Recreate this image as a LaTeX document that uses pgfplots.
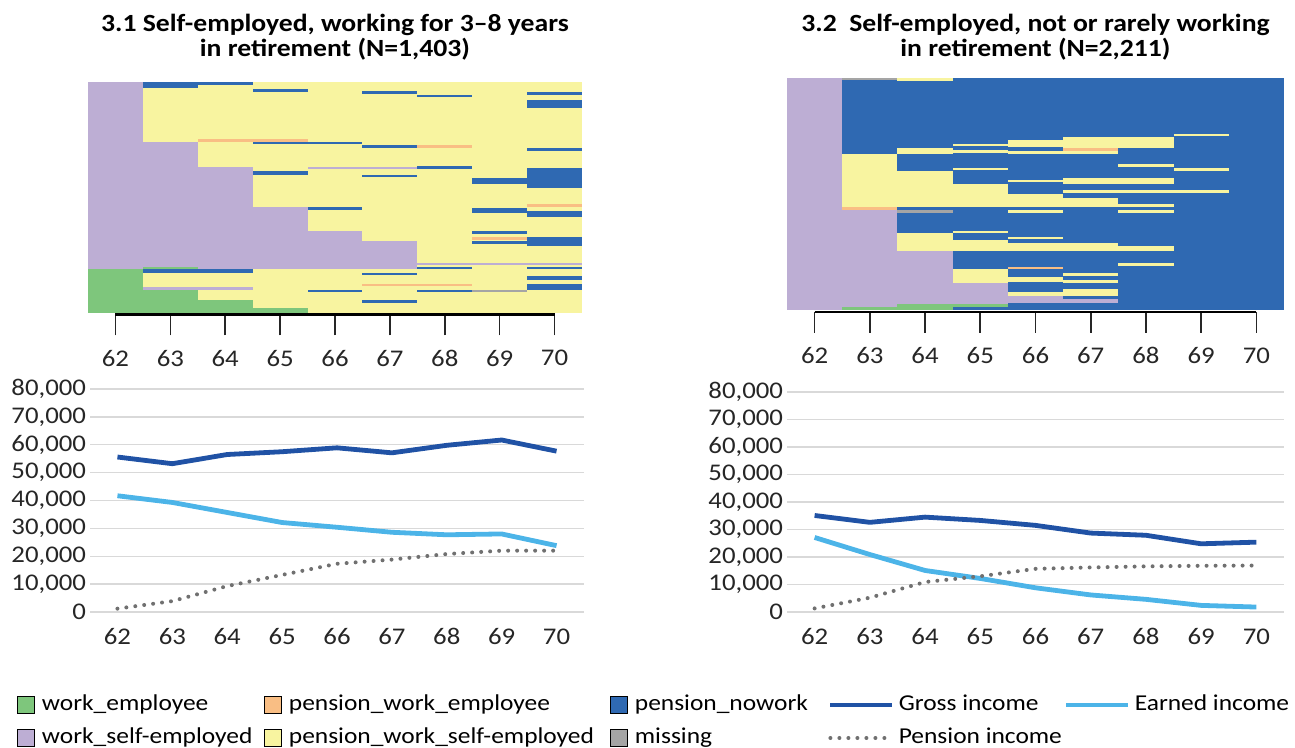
\documentclass[border=0pt]{standalone}
\usepackage{fontspec}
\setmainfont{Carlito}[FakeStretch=1.12]
\usepackage{pgfplots}
\pgfplotsset{compat=1.18}
\definecolor{cG}{RGB}{126,198,124}
\definecolor{cP}{RGB}{189,174,212}
\definecolor{cY}{RGB}{248,244,160}
\definecolor{cB}{RGB}{47,105,178}
\definecolor{cO}{RGB}{249,190,132}
\definecolor{cM}{RGB}{165,165,165}
\definecolor{cGross}{RGB}{32,82,165}
\definecolor{cEarn}{RGB}{76,180,232}
\definecolor{cPen}{RGB}{112,112,112}
\definecolor{gridc}{RGB}{217,217,217}
\newcommand{\fs}{\fontsize{24}{28}\selectfont}
\newcommand{\fl}{\fontsize{22.8}{27}\selectfont}
\newcommand{\R}[5]{\addplot[fill=#5,draw=none] coordinates {(#1,#3) (#2,#3) (#2,#4) (#1,#4)};}
\pgfplotsset{
 heat/.style={scale only axis, anchor=south west, xmin=61.5, xmax=70.5, ymax=100,
   hide y axis, axis x line*=bottom, x axis line style={draw=none},
   xtick={62,...,70}, tick align=outside, major tick length=21bp,
   tick style={line width=1.6bp, black!85},
   xticklabel style={font=\fs, text=black!85, yshift=-11bp}, clip=false,
   every axis title/.style={at={(0.5,1)}, anchor=south, align=center,
     font=\bfseries\fontsize{24.8}{25.5}\selectfont},
   /pgf/number format/assume math mode=true},
 inc/.style={scale only axis, anchor=south west, xmin=61.5, xmax=70.5, ymin=0, ymax=80000,
   xtick={62,...,70}, ytick={0,10000,...,80000}, axis line style={draw=none},
   major tick length=0pt, ymajorgrids, grid style={line width=1.3bp, color=gridc},
   tick label style={font=\fs, text=black!85}, scaled y ticks=false,
   xticklabel style={yshift=-13bp}, yticklabel style={xshift=-0.5bp},
   /pgf/number format/1000 sep={,}, /pgf/number format/assume math mode=true},
 leg/.style={hide axis, scale only axis, width=1bp, height=1bp, anchor=south west,
   xmin=0, xmax=1, ymin=0, ymax=1, legend cell align=left,
   legend style={at={(0,0)}, anchor=west, draw=none, fill=none, inner sep=0bp,
     outer sep=0bp, font=\fl, column sep=7bp, row sep=12bp,
     nodes={inner sep=0bp, text height=16bp, text depth=5bp}}},
}
\begin{document}
\begin{tikzpicture}
\path[use as bounding box] (0,0) rectangle (1295bp,748bp);

% ---------- 3.1 sequence index plot ----------
\begin{axis}[heat, at={(88bp,433.5bp)}, width=494bp, height=232.5bp, ymin=-0.8,
  title={3.1 Self-employed, working for 3–8 years\\in retirement (N=1,403)},
  every axis title/.append style={yshift=18bp}]
\R{62.5}{70.5}{0}{100}{cY}
\R{61.5}{62.5}{18.8}{100}{cP}
\R{61.5}{62.5}{0}{18.8}{cG}
\R{62.5}{63.5}{18.8}{74.2}{cP}
\R{63.5}{64.5}{18.8}{63.0}{cP}
\R{64.5}{65.5}{18.8}{45.6}{cP}
\R{65.5}{66.5}{18.8}{35.5}{cP}
\R{66.5}{67.5}{18.8}{31.2}{cP}
\R{62.5}{63.5}{0}{9.8}{cG}
\R{63.5}{64.5}{0}{5.5}{cG}
\R{64.5}{65.5}{0}{1.9}{cG}
\R{62.5}{63.5}{18.8}{19.6}{cG}
\R{62.5}{64.5}{17.4}{18.8}{cB}
\R{62.5}{64.5}{9.8}{11.3}{cP}
\R{62.5}{63.5}{97.4}{100}{cB}
\R{63.5}{64.5}{98.6}{100}{cB}
\R{64.5}{65.5}{95.7}{97.0}{cB}
\R{63.5}{65.5}{74.2}{75.3}{cO}
\R{64.5}{66.5}{73.0}{74.2}{cB}
\R{64.5}{65.5}{59.8}{61.6}{cB}
\R{65.5}{66.5}{44.6}{45.6}{cB}
\R{65.5}{67.5}{62.3}{63.2}{cP}
\R{65.5}{66.5}{8.8}{9.8}{cB}
\R{66.5}{67.5}{94.9}{96.1}{cB}
\R{66.5}{67.5}{71.3}{72.5}{cB}
\R{66.5}{67.5}{58.6}{59.7}{cB}
\R{66.5}{67.5}{16.2}{17.2}{cB}
\R{66.5}{68.5}{11.6}{12.6}{cO}
\R{66.5}{67.5}{4.4}{5.4}{cB}
\R{67.5}{68.5}{93.3}{94.5}{cB}
\R{67.5}{68.5}{71.3}{72.5}{cO}
\R{67.5}{68.5}{62.3}{63.6}{cB}
\R{67.5}{70.5}{20.6}{21.4}{cP}
\R{67.5}{68.5}{18.8}{19.9}{cB}
\R{67.5}{68.5}{8.8}{9.8}{cB}
\R{68.5}{69.5}{55.7}{58.3}{cB}
\R{68.5}{69.5}{43.0}{45.5}{cB}
\R{68.5}{69.5}{34.1}{35.2}{cB}
\R{68.5}{69.5}{31.7}{32.8}{cO}
\R{68.5}{69.5}{29.9}{31.2}{cB}
\R{68.5}{69.5}{8.8}{9.8}{cM}
\R{69.5}{70.5}{94.3}{95.7}{cB}
\R{69.5}{70.5}{88.7}{92.3}{cB}
\R{69.5}{70.5}{70.0}{71.2}{cB}
\R{69.5}{70.5}{54.2}{62.9}{cB}
\R{69.5}{70.5}{45.8}{47.0}{cO}
\R{69.5}{70.5}{41.4}{44.2}{cB}
\R{69.5}{70.5}{28.7}{32.6}{cB}
\R{69.5}{70.5}{18.8}{19.9}{cB}
\R{69.5}{70.5}{14.2}{15.7}{cB}
\R{69.5}{70.5}{9.7}{12.5}{cB}
\addplot[black, line width=2.5bp] coordinates {(62,-0.8) (70,-0.8)};
\end{axis}

% ---------- 3.2 sequence index plot ----------
\begin{axis}[heat, at={(787bp,436bp)}, width=497bp, height=234bp, ymin=-0.85,
  title={3.2\ \ Self-employed, not or rarely working\\in retirement (N=2,211)},
  every axis title/.append style={yshift=14bp}]
\R{62.5}{70.5}{0}{100}{cB}
\R{61.5}{62.5}{0}{100}{cP}
\R{62.5}{63.5}{99.1}{100}{cM}
\R{62.5}{63.5}{44.5}{67.1}{cY}
\R{62.5}{63.5}{43.3}{44.5}{cO}
\R{62.5}{63.5}{1.4}{43.3}{cP}
\R{62.5}{63.5}{0}{1.4}{cG}
\R{63.5}{64.5}{98.9}{100}{cY}
\R{63.5}{64.5}{67.1}{69.9}{cY}
\R{63.5}{64.5}{44.5}{60.0}{cY}
\R{63.5}{64.5}{41.9}{43.0}{cM}
\R{63.5}{64.5}{25.4}{33.0}{cY}
\R{63.5}{64.5}{2.6}{25.4}{cP}
\R{63.5}{64.5}{0}{2.6}{cG}
\R{64.5}{65.5}{70.7}{71.7}{cY}
\R{64.5}{65.5}{67.7}{68.9}{cY}
\R{64.5}{65.5}{60.3}{61.4}{cY}
\R{64.5}{65.5}{44.5}{54.5}{cY}
\R{64.5}{65.5}{33.0}{34.1}{cY}
\R{64.5}{65.5}{25.4}{30.1}{cY}
\R{64.5}{65.5}{11.5}{17.5}{cY}
\R{64.5}{65.5}{2.6}{11.5}{cP}
\R{64.5}{65.5}{1.4}{2.6}{cG}
\R{65.5}{66.5}{70.3}{73.2}{cY}
\R{65.5}{66.5}{67.4}{68.4}{cY}
\R{65.5}{66.5}{55.0}{56.2}{cY}
\R{65.5}{66.5}{44.5}{50.2}{cY}
\R{65.5}{66.5}{41.9}{43.0}{cY}
\R{65.5}{66.5}{30.4}{31.6}{cY}
\R{65.5}{66.5}{25.4}{28.7}{cY}
\R{65.5}{66.5}{17.6}{18.7}{cO}
\R{65.5}{66.5}{11.9}{14.1}{cY}
\R{65.5}{66.5}{6.2}{7.6}{cY}
\R{65.5}{66.5}{2.9}{6.2}{cP}
\R{66.5}{67.5}{69.9}{74.6}{cY}
\R{66.5}{67.5}{68.4}{69.9}{cO}
\R{66.5}{67.5}{67.1}{68.4}{cY}
\R{66.5}{67.5}{54.5}{57.1}{cY}
\R{66.5}{69.5}{50.6}{51.6}{cY}
\R{66.5}{67.5}{44.5}{48.4}{cY}
\R{66.5}{67.5}{25.4}{28.7}{cY}
\R{66.5}{67.5}{14.5}{16.1}{cY}
\R{66.5}{67.5}{11.6}{12.9}{cY}
\R{66.5}{67.5}{6.2}{8.9}{cY}
\R{66.5}{67.5}{2.9}{4.6}{cP}
\R{67.5}{68.5}{69.9}{74.6}{cY}
\R{67.5}{68.5}{61.7}{62.8}{cY}
\R{67.5}{68.5}{54.5}{57.1}{cY}
\R{67.5}{68.5}{44.5}{45.6}{cY}
\R{67.5}{68.5}{41.9}{43.0}{cY}
\R{67.5}{68.5}{25.4}{27.7}{cY}
\R{67.5}{68.5}{18.9}{20.1}{cY}
\R{68.5}{69.5}{74.9}{76.0}{cY}
\R{68.5}{69.5}{60.1}{61.4}{cY}
\addplot[black, line width=2.5bp] coordinates {(62,-0.85) (70,-0.85)};
\end{axis}

% ---------- income 3.1 ----------
\begin{axis}[inc, at={(90bp,136bp)}, width=494bp, height=223bp]
\addplot[cGross, line width=4.8bp, line join=round] coordinates {
(62,55600) (63,53200) (64,56500) (65,57500) (66,58900) (67,57100) (68,59800) (69,61700) (70,57700)};
\addplot[cEarn, line width=4.8bp, line join=round] coordinates {
(62,41700) (63,39300) (64,35700) (65,32100) (66,30400) (67,28600) (68,27700) (69,28000) (70,23800)};
\addplot[cPen, line width=4bp, line cap=round, dash pattern=on 0bp off 9bp] coordinates {
(62,1200) (63,3900) (64,9300) (65,13300) (66,17300) (67,18800) (68,20800) (69,22000) (70,22000)};
\end{axis}

% ---------- income 3.2 ----------
\begin{axis}[inc, at={(787bp,136bp)}, width=497bp, height=220bp]
\addplot[cGross, line width=4.8bp, line join=round] coordinates {
(62,35100) (63,32600) (64,34500) (65,33300) (66,31500) (67,28700) (68,27900) (69,24800) (70,25400)};
\addplot[cEarn, line width=4.8bp, line join=round] coordinates {
(62,27100) (63,20900) (64,15100) (65,12200) (66,8800) (67,6200) (68,4600) (69,2400) (70,1800)};
\addplot[cPen, line width=4bp, line cap=round, dash pattern=on 0bp off 9bp] coordinates {
(62,1300) (63,5200) (64,10900) (65,13000) (66,15700) (67,16200) (68,16600) (69,16800) (70,16900)};
\end{axis}

% ---------- legends ----------
\begin{axis}[leg, at={(17bp,26.5bp)},
  legend image code/.code={\draw[#1,draw=black,line width=0.9bp] (0bp,-8.5bp) rectangle (17bp,8.5bp);}]
\addlegendimage{fill=cG}\addlegendentry{work\_employee}
\addlegendimage{fill=cP}\addlegendentry{work\_self-employed}
\end{axis}
\begin{axis}[leg, at={(264bp,26.5bp)},
  legend image code/.code={\draw[#1,draw=black,line width=0.9bp] (0bp,-8.5bp) rectangle (17bp,8.5bp);}]
\addlegendimage{fill=cO}\addlegendentry{pension\_work\_employee}
\addlegendimage{fill=cY}\addlegendentry{pension\_work\_self-employed}
\end{axis}
\begin{axis}[leg, at={(610bp,26.5bp)},
  legend image code/.code={\draw[#1,draw=black,line width=0.9bp] (0bp,-8.5bp) rectangle (17bp,8.5bp);}]
\addlegendimage{fill=cB}\addlegendentry{pension\_nowork}
\addlegendimage{fill=cM}\addlegendentry{missing}
\end{axis}
\begin{axis}[leg, at={(828bp,26.5bp)}, legend style={column sep=4bp},
  legend image code/.code={\draw[#1] (0bp,0bp) -- (62bp,0bp);}]
\addlegendimage{cGross, line width=4.8bp}\addlegendentry{Gross income}
\addlegendimage{cPen, line width=4bp, line cap=round, dash pattern=on 0bp off 9bp}\addlegendentry{Pension income}
\end{axis}
\begin{axis}[leg, at={(1064bp,43bp)}, legend style={column sep=4bp},
  legend image code/.code={\draw[#1] (0bp,0bp) -- (62bp,0bp);}]
\addlegendimage{cEarn, line width=4.8bp}\addlegendentry{Earned income}
\end{axis}
\end{tikzpicture}
\end{document}
